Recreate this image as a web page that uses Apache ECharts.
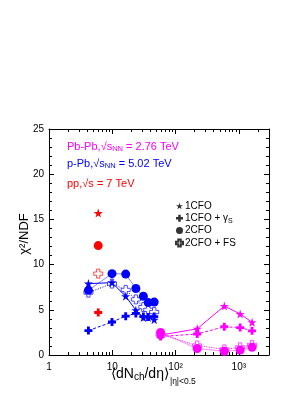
<!DOCTYPE html>
<html><head><meta charset="utf-8">
<script src="https://cdn.jsdelivr.net/npm/echarts@6/dist/echarts.min.js"></script>
<style>html,body{margin:0;padding:0;background:#fff}#c{width:306px;height:396px}</style>
</head><body><div id="c"></div>
<script>
// ---- data ----
const pbpbX      = [58, 220, 590, 1050, 1620];
const pbpb1CFO   = [2.2, 2.9, 5.42, 4.54, 3.62];
const pbpb1CFOgs = [2.05, 2.32, 3.13, 3.03, 2.67];
const pbpb2CFO   = [2.5, 0.72, 0.42, 0.55, 0.85];
const pbpb2CFOfs = [2.3, 1.05, 0.62, 0.85, 1.12];

const ppbX       = [4.2, 9.9, 16.3, 23.6, 31, 37, 46];
const ppb1CFO    = [7.9, 8.0, 6.5, 4.95, 4.15, 4.15, 3.9];
const ppb1CFOgs  = [2.7, 3.65, 4.3, 4.6, 4.25, 4.2, 4.25];
const ppb2CFO    = [7.15, 9.0, 8.95, 7.35, 6.5, 5.8, 5.85];
const ppb2CFOfs  = [6.9, 7.9, 7.2, 6.15, 5.3, 5.0, 4.75];

const ppX        = [6.0];
const pp1CFO     = [15.7];
const pp1CFOgs   = [4.7];
const pp2CFO     = [12.1];
const pp2CFOfs   = [9.0];

const xMajorTicks = [1, 10, 100, 1000];
const xMinorTicks = [2,3,4,5,6,7,8,9,20,30,40,50,60,70,80,90,200,300,400,500,600,700,800,900,2000,3000];
const xTickLabels = ['1', '10', '10²', '10³'];
const legendNames = ['1CFO', '1CFO + γS', '2CFO', '2CFO + FS'];

// ---- styles ----
const FONT = 'Liberation Sans, Arial, Helvetica, sans-serif';
const MAG = '#ff00ff', BLUE = '#0000ff', RED = '#ff0000';
const STAR = 'path://M50,0L61.2,34.5L97.6,34.5L68.2,55.9L79.4,90.5L50,69.1L20.6,90.5L31.8,55.9L2.4,34.5L38.8,34.5Z';
const CROSS = 'path://M3.2,0H6.8V3.2H10V6.8H6.8V10H3.2V6.8H0V3.2H3.2Z';
const OCROSS = 'path://M3.2,0H6.8V3.2H10V6.8H6.8V10H3.2V6.8H0V3.2H3.2Z';

function zip(xs, ys){ return xs.map((x,i)=>[x, ys[i]]); }
function mk(name, xs, ys, color, model){
  const cfg = {
    '1CFO':   {symbol: STAR, size: 9, line: 'solid', w: 1, hollow: false, op: 1},
    '1CFOgs': {symbol: CROSS, size: 8, line: [3,2], w: 1, hollow: false, op: 1},
    '2CFO':   {symbol: 'circle', size: 9, line: 'solid', w: 0.8, hollow: false, op: 0.6},
    '2CFOfs': {symbol: OCROSS, size: 9, line: [1,1.5], w: 1, hollow: true, op: 1}
  }[model];
  return {
    type: 'line', name, data: zip(xs, ys), xAxisIndex: 0, yAxisIndex: 0,
    symbol: cfg.symbol, symbolSize: cfg.size, showAllSymbol: true,
    itemStyle: cfg.hollow ? {color: '#fff', borderColor: color, borderWidth: 0.7} : {color: color, borderWidth: 0},
    lineStyle: {color: color, width: cfg.w, type: cfg.line, opacity: cfg.op},
    animation: false, silent: true
  };
}

const series = [
  mk('pbpb-2CFOfs', pbpbX, pbpb2CFOfs, MAG, '2CFOfs'),
  mk('pbpb-2CFO', pbpbX, pbpb2CFO, MAG, '2CFO'),
  mk('pbpb-1CFOgs', pbpbX, pbpb1CFOgs, MAG, '1CFOgs'),
  mk('pbpb-1CFO', pbpbX, pbpb1CFO, MAG, '1CFO'),
  mk('ppb-2CFOfs', ppbX, ppb2CFOfs, BLUE, '2CFOfs'),
  mk('ppb-2CFO', ppbX, ppb2CFO, BLUE, '2CFO'),
  mk('ppb-1CFOgs', ppbX, ppb1CFOgs, BLUE, '1CFOgs'),
  mk('ppb-1CFO', ppbX, ppb1CFO, BLUE, '1CFO'),
  mk('pp-2CFOfs', ppX, pp2CFOfs, RED, '2CFOfs'),
  mk('pp-2CFO', ppX, pp2CFO, RED, '2CFO'),
  mk('pp-1CFOgs', ppX, pp1CFOgs, RED, '1CFOgs'),
  mk('pp-1CFO', ppX, pp1CFO, RED, '1CFO'),
  // legend-only series
  {type:'scatter', name: legendNames[0], data: [], symbol: STAR, itemStyle:{color:'#000'}},
  {type:'scatter', name: legendNames[1], data: [], symbol: CROSS, itemStyle:{color:'#000'}},
  {type:'scatter', name: legendNames[2], data: [], symbol: 'circle', itemStyle:{color:'#000'}},
  {type:'scatter', name: legendNames[3], data: [], symbol: OCROSS, itemStyle:{color:'#fff', borderColor:'#000', borderWidth:0.7}}
];

function xAx(pos, major){
  return {
    type: 'log', position: pos, min: 1, max: 3000, logBase: 10,
    axisLine: {show: major, onZero: false, lineStyle: {color: '#000', width: 1}},
    splitLine: {show: false},
    axisTick: {show: true, inside: true, length: major ? 5 : 3, customValues: major ? xMajorTicks : xMinorTicks, lineStyle: {color: '#000', width: 1}},
    axisLabel: (major && pos === 'bottom') ? {
      show: true, customValues: xMajorTicks, margin: 7, color: '#000', fontSize: 10, fontFamily: FONT,
      formatter: v => xTickLabels[Math.round(Math.log10(v))]
    } : {show: false}
  };
}
function yAx(pos){
  return {
    type: 'value', position: pos, min: 0, max: 25, interval: 5,
    axisLine: {show: true, onZero: false, lineStyle: {color: '#000', width: 1}},
    splitLine: {show: false},
    axisTick: {show: true, inside: true, length: 5, lineStyle: {color: '#000', width: 1}},
    minorTick: {show: true, splitNumber: 5, length: 3, lineStyle: {color: '#000', width: 1}},
    axisLabel: pos === 'left' ? {show: true, margin: 5, color: '#000', fontSize: 10, fontFamily: FONT} : {show: false}
  };
}

const chart = echarts.init(document.getElementById('c'), null, {renderer: 'canvas'});
chart.setOption({
  backgroundColor: '#fff',
  animation: false,
  grid: {left: 49, right: 37, top: 129, bottom: 41, containLabel: false},
  xAxis: [xAx('bottom', true), xAx('bottom', false), xAx('top', true), xAx('top', false)],
  yAxis: [yAx('left'), yAx('right')],
  legend: {
    orient: 'vertical', left: 175, top: 200, padding: 0, itemWidth: 7, itemHeight: 7, itemGap: 0.3,
    selectedMode: false,
    textStyle: {fontSize: 10, lineHeight: 12, fontFamily: FONT, color: '#000', padding: [0,0,0,-3],
      rich: {s: {fontSize: 7, lineHeight: 8, fontFamily: FONT, color: '#000', padding: [5,0,0,0]}}},
    formatter: n => n === legendNames[1] ? '1CFO + γ{s|S}' : n,
    data: [
      {name: legendNames[0], icon: STAR},
      {name: legendNames[1], icon: CROSS},
      {name: legendNames[2], icon: 'circle'},
      {name: legendNames[3], icon: OCROSS}
    ]
  },
  graphic: [
    {type: 'text', left: 67, top: 141, silent: true, style: {
      text: 'Pb-Pb,√s{sub|NN} = 2.76 TeV', fill: MAG, fontSize: 11, fontFamily: FONT,
      rich: {sub: {fontSize: 7.5, fill: MAG, fontFamily: FONT, padding: [5,0,0,0]}}}},
    {type: 'text', left: 67, top: 158, silent: true, style: {
      text: 'p-Pb,√s{sub|NN} = 5.02 TeV', fill: BLUE, fontSize: 11, fontFamily: FONT,
      rich: {sub: {fontSize: 7.5, fill: BLUE, fontFamily: FONT, padding: [5,0,0,0]}}}},
    {type: 'text', left: 67, top: 178, silent: true, style: {
      text: 'pp,√s = 7 TeV', fill: RED, fontSize: 11, fontFamily: FONT}},
    {type: 'text', x: 24, y: 234, rotation: Math.PI/2, silent: true, style: {
      text: 'χ²/NDF', fill: '#000', fontSize: 13, fontFamily: FONT, align: 'center', verticalAlign: 'middle'}},
    {type: 'text', left: 111, top: 367, silent: true, style: {
      text: '⟨dN{sub|ch}/dη⟩{sub2||η|<0.5}', fill: '#000', fontSize: 14, fontFamily: FONT,
      rich: {sub: {fontSize: 10, fill: '#000', fontFamily: FONT, padding: [6,0,0,0]},
             sub2: {fontSize: 8.5, fill: '#000', fontFamily: FONT, padding: [15,0,0,1]}}}}
  ],
  series: series
});
</script></body></html>
